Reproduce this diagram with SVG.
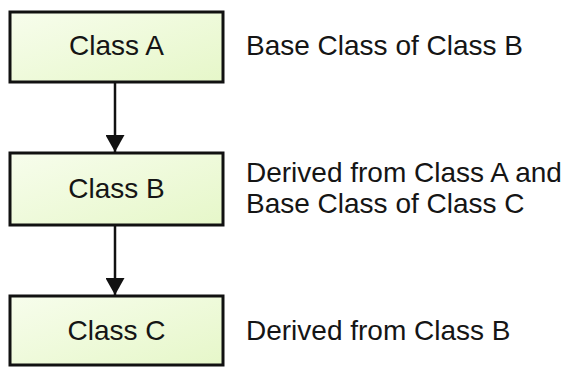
<svg xmlns="http://www.w3.org/2000/svg" width="573" height="367" viewBox="0 0 573 367">
<style>
.box{fill:url(#g);stroke:#111;stroke-width:3}
.lbl{font-family:"Liberation Sans",Arial,sans-serif;font-size:28px;fill:#151515}
.mid{text-anchor:middle}
.edge{stroke:#111;stroke-width:2.5;fill:none}
</style>
<defs>
<linearGradient id="g" x1="0" y1="0" x2="1" y2="1">
<stop offset="0" stop-color="#f7fdec"/>
<stop offset="1" stop-color="#e6f7c9"/>
</linearGradient>
<marker id="ah" markerUnits="userSpaceOnUse" markerWidth="17" markerHeight="19" refX="17" refY="9.5" orient="auto">
<path d="M0,0 L17,9.5 L0,19 Z" fill="#111"/>
</marker>
</defs>
<rect width="573" height="367" fill="#fff"/>
<g id="connectors">
<line class="edge" x1="115" y1="83" x2="115" y2="152" marker-end="url(#ah)"/>
<line class="edge" x1="115" y1="226" x2="115" y2="295" marker-end="url(#ah)"/>
</g>
<g id="classA">
<rect class="box" x="10" y="12" width="213" height="70"/>
<text class="lbl mid" x="116.5" y="55">Class A</text>
</g>
<g id="classB">
<rect class="box" x="10" y="153" width="213" height="72"/>
<text class="lbl mid" x="116.5" y="198">Class B</text>
</g>
<g id="classC">
<rect class="box" x="10" y="296" width="213" height="69"/>
<text class="lbl mid" x="116.5" y="340">Class C</text>
</g>
<g id="notes">
<text class="lbl" x="246" y="55">Base Class of Class B</text>
<text class="lbl" x="246" y="182">Derived from Class A and</text>
<text class="lbl" x="246" y="213">Base Class of Class C</text>
<text class="lbl" x="246" y="340">Derived from Class B</text>
</g>
</svg>
